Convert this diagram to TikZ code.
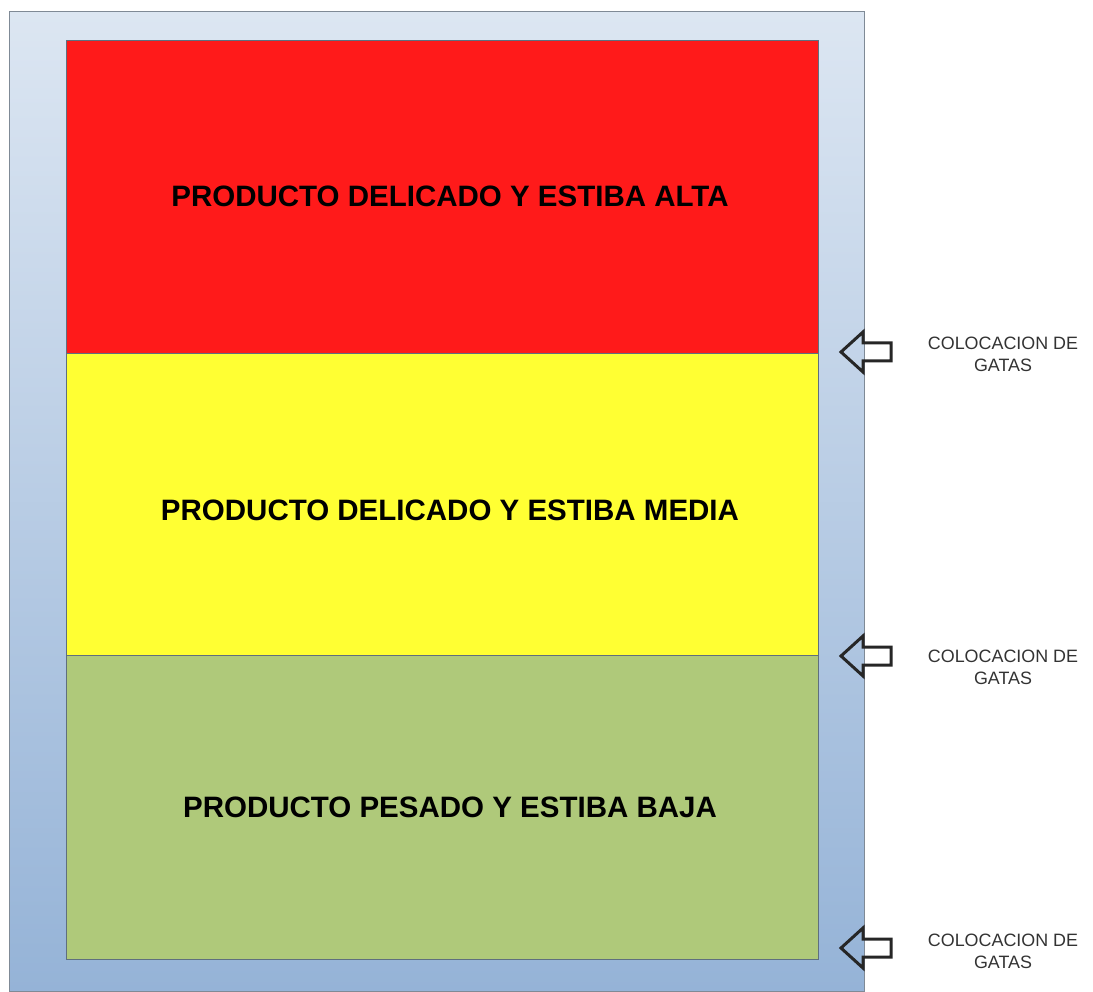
\documentclass[tikz,border=0pt]{standalone}
\usepackage{fontspec}
\setmainfont{Liberation Sans}
\usetikzlibrary{positioning}

\definecolor{rojo}{HTML}{FF1A1A}
\definecolor{amarillo}{HTML}{FFFF33}
\definecolor{verde}{HTML}{AFC97A}
\definecolor{fondoarriba}{HTML}{DCE6F2}
\definecolor{fondoabajo}{HTML}{95B3D7}
\definecolor{bordefondo}{HTML}{7F8A96}
\definecolor{bordezona}{HTML}{5F6F7E}
\definecolor{flecha}{HTML}{262626}

\begin{document}
\begin{tikzpicture}[x=1pt,y=-1pt,
  zona/.style={draw=bordezona, line width=0.8pt, minimum width=752pt,
    minimum height=#1, inner sep=0pt, outer sep=0pt},
  rotulo/.style={font=\fontsize{29.5}{34}\selectfont\bfseries, inner sep=0pt},
  nota/.style={align=center, font=\fontsize{17.9}{22}\selectfont,
    text=black!80, inner sep=0pt},
  gata/.style={draw=flecha, line width=3pt, line join=miter}]

\useasboundingbox (0,0) rectangle (1093,992);

\node[draw=bordefondo, line width=1pt, top color=fondoarriba, bottom color=fondoabajo,
  minimum width=855pt, minimum height=979pt, inner sep=0pt] (bodega) at (436.5,501.5) {};

\node[zona=313pt, fill=rojo] (alta) at (442,196.5) {};
\node[zona=302pt, fill=amarillo, below=0pt of alta] (media) {};
\node[zona=304pt, fill=verde, below=0pt of media] (baja) {};

\node[rotulo] at ([xshift=8pt]alta.center) {PRODUCTO DELICADO Y ESTIBA ALTA};
\node[rotulo] at ([xshift=8pt,yshift=-6pt]media.center) {PRODUCTO DELICADO Y ESTIBA MEDIA};
\node[rotulo] at ([xshift=8pt]baja.center) {PRODUCTO PESADO Y ESTIBA BAJA};

% flechas de gatas
\foreach \y in {352,656,948}
  \draw[gata] (841,\y) -- (863,\y-20) -- (863,\y-9) -- (891,\y-9)
    -- (891,\y+9) -- (863,\y+9) -- (863,\y+20) -- cycle;

\node[nota] (gata1) at (1003,354) {COLOCACION DE\\GATAS};
\node[nota] (gata2) at (1003,667.5) {COLOCACION DE\\GATAS};
\node[nota] (gata3) at (1003,951.5) {COLOCACION DE\\GATAS};

\end{tikzpicture}
\end{document}
